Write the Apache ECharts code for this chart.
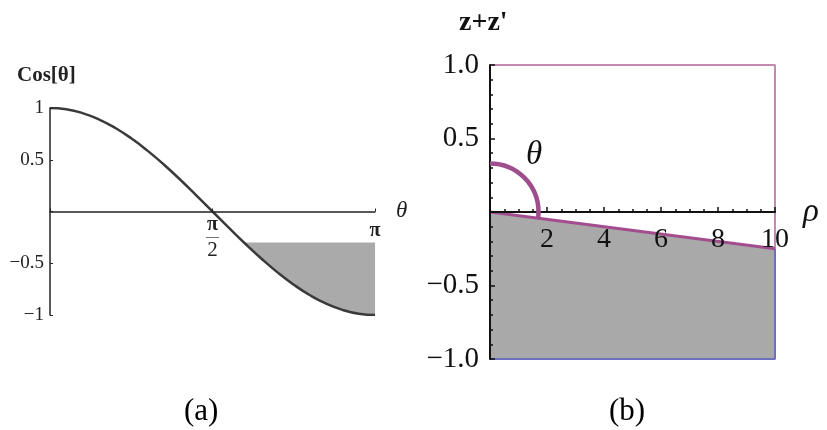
<!DOCTYPE html>
<html>
<head>
<meta charset="utf-8">
<script src="https://cdn.jsdelivr.net/npm/echarts@6/dist/echarts.min.js"></script>
<style>
html,body{margin:0;padding:0;background:#fff;}
#chart{width:827px;height:430px;}
</style>
</head>
<body>
<div id="chart"></div>
<script>
// ---- Panel (a): Cos[theta] ----
const thetaVals = [0, 0.157, 0.314, 0.471, 0.628, 0.785, 0.942, 1.100, 1.257, 1.414, 1.571,
                   1.728, 1.885, 2.042, 2.199, 2.356, 2.513, 2.670, 2.827, 2.985, 3.142];
const cosVals   = [1, 0.988, 0.951, 0.891, 0.809, 0.707, 0.588, 0.454, 0.309, 0.156, 0,
                   -0.156, -0.309, -0.454, -0.588, -0.707, -0.809, -0.891, -0.951, -0.988, -1];
const shadeLevel = -0.3;
const shadeTheta = [1.875, 2.042, 2.199, 2.356, 2.513, 2.670, 2.827, 2.985, 3.142];
const shadeCos   = [-0.3, -0.454, -0.588, -0.707, -0.809, -0.891, -0.951, -0.988, -1];
const leftYTicks = [-1, -0.5, 0, 0.5, 1];

// ---- Panel (b): z+z' vs rho ----
const rhoVals   = [0, 10];
const slopeVals = [0, -0.25];
const boxTop = 1.0;
const boxBottom = -1.0;
const arcRadiusY = 0.33;
const rightXTicks = [0, 2, 4, 6, 8, 10];
const rightYTicks = [-1.0, -0.5, 0, 0.5, 1.0];

const SERIF = '"Liberation Serif", "DejaVu Serif", serif';
const chart = echarts.init(document.getElementById('chart'), null, {renderer: 'canvas'});

const option = {
  backgroundColor: '#fff',
  animation: false,
  grid: [
    {left: 50, top: 108, width: 325, height: 207},
    {left: 490, top: 65, width: 285, height: 294}
  ],
  xAxis: [
    {
      gridIndex: 0, type: 'value', min: 0, max: Math.PI, interval: Math.PI / 2,
      position: 'bottom', offset: -103.5, z: 10,
      axisLine: {onZero: false, lineStyle: {color: '#222', width: 1.5}},
      axisTick: {show: true, inside: true, length: 3, lineStyle: {color: '#222'}},
      splitLine: {show: false},
      axisLabel: {
        margin: 6, color: '#222', fontFamily: SERIF,
        formatter: function (v) {
          if (Math.abs(v - Math.PI / 2) < 1e-6) return '{n|π}\n{bar|—}\n{d|2}';
          if (Math.abs(v - Math.PI) < 1e-6) return '{e|π}';
          return '';
        },
        rich: {
          n: {fontFamily: SERIF, fontSize: 20, lineHeight: 15, color: '#222', fontWeight: 'bold'},
          bar: {fontFamily: SERIF, fontSize: 13, lineHeight: 8, color: '#222'},
          d: {fontFamily: SERIF, fontSize: 21, lineHeight: 20, color: '#222'},
          e: {fontFamily: SERIF, fontSize: 20, lineHeight: 15, color: '#222', fontWeight: 'bold', padding: [12, 0, 0, 0]}
        }
      }
    },
    {
      gridIndex: 1, type: 'value', min: 0, max: 10, interval: 2,
      position: 'bottom', offset: -147, z: 10,
      axisLine: {onZero: false, lineStyle: {color: '#111', width: 2}},
      axisTick: {show: true, inside: true, length: 5, lineStyle: {color: '#111', width: 1.5}},
      minorTick: {show: true, splitNumber: 4, length: 3, lineStyle: {color: '#111', width: 1.5}},
      splitLine: {show: false},
      axisLabel: {
        margin: 14, color: '#111', fontFamily: SERIF, fontSize: 28,
        formatter: function (v) { return v === 0 ? '' : String(v); }
      }
    }
  ],
  yAxis: [
    {
      gridIndex: 0, type: 'value', min: -1, max: 1, interval: 0.5, z: 10,
      axisLine: {onZero: false, lineStyle: {color: '#222', width: 1.5}},
      axisTick: {show: true, inside: true, length: 3, lineStyle: {color: '#222'}},
      splitLine: {show: false},
      axisLabel: {
        margin: 6, color: '#222', fontFamily: SERIF, fontSize: 19,
        formatter: function (v) {
          if (v === 0) return '';
          return String(v).replace('-', '\u2212');
        }
      }
    },
    {
      gridIndex: 1, type: 'value', min: -1, max: 1, interval: 0.5, z: 10,
      axisLine: {onZero: false, lineStyle: {color: '#111', width: 2}},
      axisTick: {show: true, inside: true, length: 5, lineStyle: {color: '#111', width: 1.5}},
      minorTick: {show: true, splitNumber: 5, length: 3, lineStyle: {color: '#111', width: 1.5}},
      splitLine: {show: false},
      axisLabel: {
        margin: 11, color: '#111', fontFamily: SERIF, fontSize: 29,
        formatter: function (v) {
          if (v === 0) return '';
          return v.toFixed(1).replace('-', '\u2212');
        }
      }
    }
  ],
  series: [
    {
      type: 'custom', xAxisIndex: 0, yAxisIndex: 0, z: 1,
      data: [[shadeTheta[0], shadeLevel]],
      renderItem: function (params, api) {
        const pts = [];
        for (let i = 0; i < shadeTheta.length; i++) pts.push(api.coord([shadeTheta[i], shadeCos[i]]));
        pts.push(api.coord([shadeTheta[shadeTheta.length - 1], shadeLevel]));
        pts.push(api.coord([shadeTheta[0], shadeLevel]));
        return {type: 'polygon', shape: {points: pts}, style: {fill: '#aaaaaa', stroke: null}};
      }
    },
    {
      type: 'line', xAxisIndex: 0, yAxisIndex: 0, z: 3,
      data: thetaVals.map((t, i) => [t, cosVals[i]]),
      smooth: true, showSymbol: false,
      lineStyle: {color: '#3a3a3a', width: 2.5}
    },
    {
      type: 'line', xAxisIndex: 1, yAxisIndex: 1, z: 1,
      data: rhoVals.map((r, i) => [r, slopeVals[i]]),
      showSymbol: false,
      lineStyle: {width: 0},
      areaStyle: {origin: 'start', color: '#a9a9a9', opacity: 1}
    },
    {
      type: 'line', xAxisIndex: 1, yAxisIndex: 1, z: 2,
      data: [[rhoVals[0], boxTop], [rhoVals[1], boxTop], [rhoVals[1], slopeVals[1]]],
      showSymbol: false,
      lineStyle: {color: '#c689b4', width: 2}
    },
    {
      type: 'line', xAxisIndex: 1, yAxisIndex: 1, z: 2,
      data: [[rhoVals[1], slopeVals[1]], [rhoVals[1], boxBottom], [rhoVals[0], boxBottom]],
      showSymbol: false,
      lineStyle: {color: '#6f6fc0', width: 2}
    },
    {
      type: 'line', xAxisIndex: 1, yAxisIndex: 1, z: 4,
      data: rhoVals.map((r, i) => [r, slopeVals[i]]),
      showSymbol: false,
      lineStyle: {color: '#a24e8e', width: 3}
    },
    {
      type: 'custom', xAxisIndex: 1, yAxisIndex: 1, z: 11,
      data: [[rhoVals[0], slopeVals[0]]],
      renderItem: function (params, api) {
        const c = api.coord([rhoVals[0], slopeVals[0]]);
        const top = api.coord([rhoVals[0], slopeVals[0] + arcRadiusY]);
        const p = api.coord([rhoVals[1], slopeVals[1]]);
        const r = c[1] - top[1];
        const endA = Math.atan2(p[1] - c[1], p[0] - c[0]);
        return {
          type: 'arc',
          shape: {cx: c[0], cy: c[1], r: r, startAngle: -Math.PI / 2, endAngle: endA, clockwise: true},
          style: {fill: null, stroke: '#9e4d8d', lineWidth: 4.5}
        };
      }
    }
  ],
  graphic: [
    {type: 'text', left: 17, top: 65, style: {text: 'Cos[θ]', font: 'bold 21px ' + SERIF, fill: '#222'}},
    {type: 'text', left: 396, top: 199, style: {text: 'θ', font: 'italic 23px ' + SERIF, fill: '#222'}},
    {type: 'text', left: 459, top: 9, style: {text: "z+z'", font: 'bold 28px ' + SERIF, fill: '#111'}},
    {type: 'text', left: 803, top: 196, style: {text: 'ρ', font: 'italic 33px ' + SERIF, fill: '#111'}},
    {type: 'text', left: 526, top: 139, style: {text: 'θ', font: 'italic 33px ' + SERIF, fill: '#111'}},
    {type: 'text', left: 184, top: 396, style: {text: '(a)', font: '31px ' + SERIF, fill: '#000'}},
    {type: 'text', left: 609, top: 396, style: {text: '(b)', font: '31px ' + SERIF, fill: '#000'}}
  ]
};
chart.setOption(option);
</script>
</body>
</html>
